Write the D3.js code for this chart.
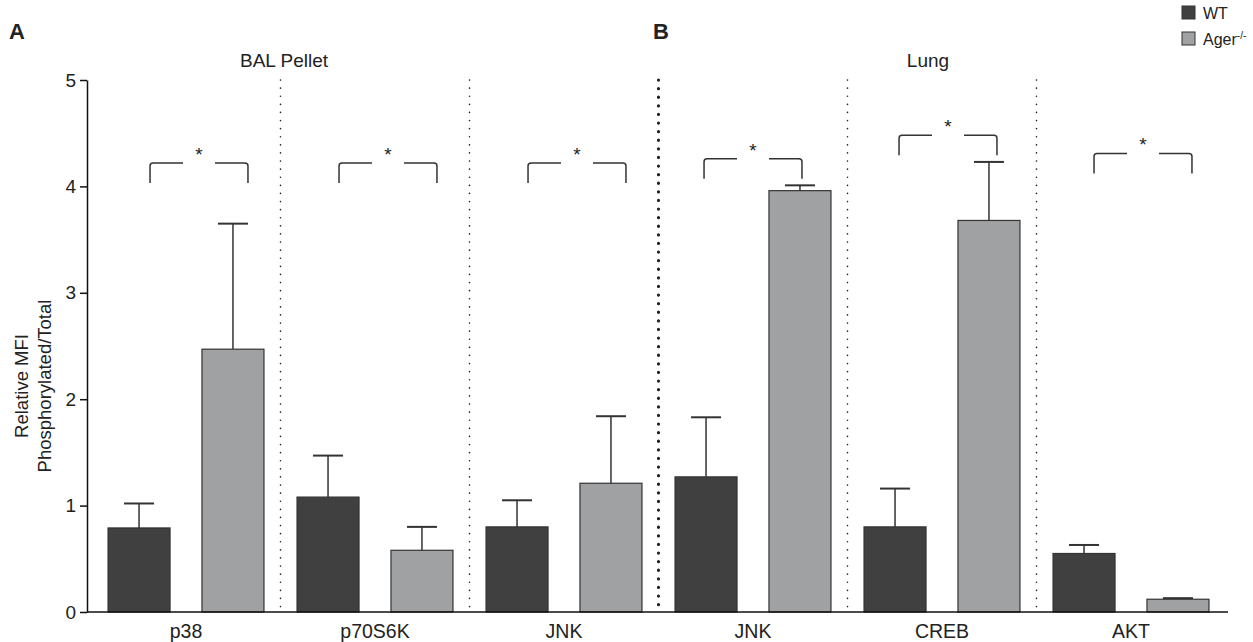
<!DOCTYPE html>
<meta charset="utf-8">
<style>
body { margin: 0; background: #fff; }
text { font-family: "Liberation Sans", Arial, sans-serif; fill: #222; }
</style>
<body>
<div id="chart"></div>
</body>
<script src="https://d3js.org/d3.v7.min.js"></script>
<script>

// data
var groups = ["p38", "p70S6K", "JNK-A", "JNK-B", "CREB", "AKT"];
var groupLabels = ["p38", "p70S6K", "JNK", "JNK", "CREB", "AKT"];
var series = ["WT", "Ager"];
var wtMean = [0.79, 1.08, 0.80, 1.27, 0.80, 0.55];
var wtErr = [1.02, 1.47, 1.05, 1.83, 1.16, 0.63];
var agerMean = [2.47, 0.58, 1.21, 3.96, 3.68, 0.12];
var agerErr = [3.65, 0.80, 1.84, 4.01, 4.23, 0.13];
var bracketY = [4.22, 4.22, 4.22, 4.26, 4.48, 4.31];
var yTicks = [0, 1, 2, 3, 4, 5];

var width = 1253, height = 642;
var colors = d3.scaleOrdinal().domain(series).range(["#404040", "#a0a1a3"]);

var svg = d3.select("#chart").append("svg")
  .attr("width", width)
  .attr("height", height);

var xScale = d3.scaleBand(groups, [91.5, 1225.5])
  .paddingInner(0.175)
  .paddingOuter(0.0875);

var xSub = d3.scaleBand(series, [0, xScale.bandwidth()])
  .paddingInner(0.34);

var yScale = d3.scaleLinear([0, 5], [612, 80]);

// rows for bars
var rows = [];
groups.forEach(function(g, i) {
  rows.push({g: g, s: "WT", v: wtMean[i], e: wtErr[i]});
  rows.push({g: g, s: "Ager", v: agerMean[i], e: agerErr[i]});
});

// separators
var seps = [0, 1, 2, 3, 4].map(function(i) {
  return (xScale(groups[i]) + xScale.bandwidth() + xScale(groups[i + 1])) / 2;
});
svg.selectAll(".sep")
  .data(seps)
  .join("line")
    .attr("x1", d => d).attr("x2", d => d)
    .attr("y1", yScale(5)).attr("y2", yScale(0))
    .attr("stroke", "#222")
    .attr("stroke-linecap", "round")
    .attr("stroke-width", (d, i) => i == 2 ? 3.2 : 1.6)
    .attr("stroke-dasharray", (d, i) => i == 2 ? "0.1 8.5" : "0.1 8");

// error bars
var errs = svg.append("g");
errs.selectAll("line.v")
  .data(rows)
  .join("line")
    .attr("x1", d => xScale(d.g) + xSub(d.s) + xSub.bandwidth() / 2)
    .attr("x2", d => xScale(d.g) + xSub(d.s) + xSub.bandwidth() / 2)
    .attr("y1", d => yScale(d.v))
    .attr("y2", d => yScale(d.e))
    .attr("stroke", "#333")
    .attr("stroke-width", 1.5);
errs.selectAll("line.cap")
  .data(rows)
  .join("line")
    .attr("x1", d => xScale(d.g) + xSub(d.s) + xSub.bandwidth() / 2 - 15)
    .attr("x2", d => xScale(d.g) + xSub(d.s) + xSub.bandwidth() / 2 + 15)
    .attr("y1", d => yScale(d.e))
    .attr("y2", d => yScale(d.e))
    .attr("stroke", "#333")
    .attr("stroke-width", 2);

// bars
svg.append("g").selectAll("rect")
  .data(rows)
  .join("rect")
    .attr("x", d => xScale(d.g) + xSub(d.s))
    .attr("y", d => yScale(d.v))
    .attr("width", xSub.bandwidth())
    .attr("height", d => yScale(0) - yScale(d.v))
    .attr("fill", d => colors(d.s))
    .attr("stroke", "#333")
    .attr("stroke-width", 1.2);

// axes
var yAxis = d3.axisLeft(yScale).tickValues(yTicks).tickFormat(d3.format("d"))
  .tickSize(7).tickSizeOuter(0);
var gy = svg.append("g")
  .attr("transform", "translate(87,0)")
  .call(yAxis);
gy.select(".domain").attr("stroke", "#111").attr("stroke-width", 1.5);
gy.selectAll(".tick line").attr("stroke", "#111").attr("stroke-width", 1.5);
gy.selectAll(".tick text")
  .style("font-size", "19px")
  .style("font-family", "Liberation Sans, Arial, sans-serif")
  .attr("fill", "#222")
  .attr("x", -11);

svg.append("line")
  .attr("x1", 87).attr("x2", 1228)
  .attr("y1", yScale(0)).attr("y2", yScale(0))
  .attr("stroke", "#111").attr("stroke-width", 1.5);

svg.selectAll(".glabel")
  .data(groups)
  .join("text")
    .attr("x", d => xScale(d) + xScale.bandwidth() / 2)
    .attr("y", 638)
    .attr("text-anchor", "middle")
    .style("font-size", "19.5px")
    .text((d, i) => groupLabels[i]);

// y axis title
var yt = svg.append("text")
  .attr("transform", "translate(0,386) rotate(-90)")
  .attr("text-anchor", "middle")
  .style("font-size", "18.5px");
yt.append("tspan").attr("x", 0).attr("y", 28).text("Relative MFI");
yt.append("tspan").attr("x", 0).attr("y", 51).text("Phosphorylated/Total");

// significance brackets
var shift = [11, 11, 11, -2, 4, 10];
var brk = svg.append("g");
groups.forEach(function(g, i) {
  var x0 = xScale(g) + xSub("WT") + xSub.bandwidth() / 2 + shift[i];
  var x1 = xScale(g) + xSub("Ager") + xSub.bandwidth() / 2 + shift[i] + 4;
  var y = yScale(bracketY[i]);
  var mid = (x0 + x1) / 2;
  brk.append("path")
    .attr("d", "M" + x0 + "," + (y + 20) + " L" + x0 + "," + (y + 3) +
      " Q" + x0 + "," + y + " " + (x0 + 3) + "," + y + " L" + (mid - 16) + "," + y)
    .attr("fill", "none").attr("stroke", "#333").attr("stroke-width", 1.5);
  brk.append("path")
    .attr("d", "M" + (mid + 16) + "," + y + " L" + (x1 - 3) + "," + y +
      " Q" + x1 + "," + y + " " + x1 + "," + (y + 3) + " L" + x1 + "," + (y + 20))
    .attr("fill", "none").attr("stroke", "#333").attr("stroke-width", 1.5);
  brk.append("text")
    .attr("x", mid)
    .attr("y", y - 2)
    .attr("text-anchor", "middle")
    .style("font-size", "19px")
    .text("*");
});

// panel titles
svg.append("text").attr("x", 284).attr("y", 67).attr("text-anchor", "middle")
  .style("font-size", "19px").text("BAL Pellet");
svg.append("text").attr("x", 928).attr("y", 67).attr("text-anchor", "middle")
  .style("font-size", "19px").text("Lung");
svg.append("text").attr("x", 9).attr("y", 39)
  .style("font-size", "22px").style("font-weight", "bold").text("A");
svg.append("text").attr("x", 653).attr("y", 39)
  .style("font-size", "22px").style("font-weight", "bold").text("B");

// legend
var legendNames = ["WT", "Ager"];
var leg = svg.selectAll(".leg")
  .data(legendNames)
  .join("g")
    .attr("transform", (d, i) => "translate(1182," + (6 + i * 26) + ")");
leg.append("rect")
  .attr("width", 13).attr("height", 13)
  .attr("fill", d => colors(d))
  .attr("stroke", "#333").attr("stroke-width", 1);
var lt = leg.append("text")
  .attr("x", 21).attr("y", 12.5)
  .style("font-size", "16px");
lt.append("tspan").text(d => d === "WT" ? "WT" : "Ager");
lt.filter(d => d === "Ager").append("tspan")
  .attr("dy", -6).style("font-size", "10px").text("-/-");

</script>
